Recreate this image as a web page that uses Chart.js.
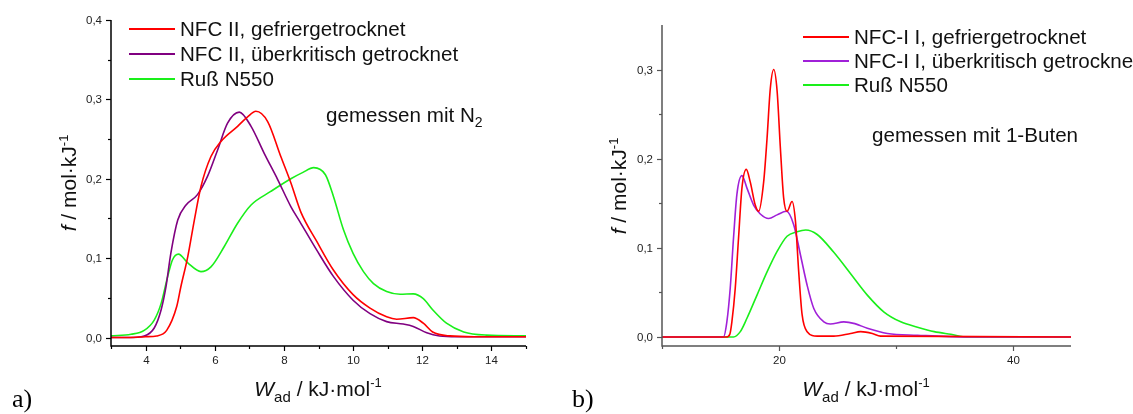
<!DOCTYPE html>
<html>
<head>
<meta charset="utf-8">
<script src="https://cdn.jsdelivr.net/npm/chart.js@4.4.1/dist/chart.umd.min.js"></script>
<style>
html, body { margin: 0; padding: 0; background: #fff; }
#wrap { position: relative; width: 1133px; height: 414px; overflow: hidden; }
#wrap canvas { position: absolute; top: 0; }
</style>
</head>
<body>
<div id="wrap">
 <canvas id="chartA" width="560" height="414" style="left:0"></canvas>
 <canvas id="chartB" width="573" height="414" style="left:560px"></canvas>
</div>
<script>
// a) measured with N2
var aGefrierX = [3, 3.5, 4, 4.32, 4.61, 4.9, 5.02, 5.22, 5.41, 5.6, 5.89, 6.18, 6.66, 6.95, 7.19, 7.53, 7.91, 8.2, 8.49, 8.95, 9.43, 10, 10.49, 10.97, 11.26, 11.74, 12.03, 12.3, 12.8, 13.5, 15];
var aGefrierY = [0.0, 0.0, 0.001, 0.002, 0.009, 0.039, 0.064, 0.102, 0.148, 0.19, 0.228, 0.247, 0.266, 0.278, 0.285, 0.272, 0.228, 0.195, 0.158, 0.121, 0.085, 0.054, 0.037, 0.026, 0.023, 0.025, 0.018, 0.007, 0.002, 0.001, 0.001];
var aUeberX = [3, 3.5, 3.96, 4.25, 4.45, 4.59, 4.73, 4.93, 5.17, 5.5, 5.79, 6.08, 6.37, 6.71, 7.05, 7.43, 7.82, 8.2, 8.46, 8.95, 9.43, 10, 10.49, 10.97, 11.45, 11.74, 12.13, 12.5, 13, 15];
var aUeberY = [0.0, 0.0, 0.002, 0.012, 0.035, 0.064, 0.106, 0.148, 0.167, 0.18, 0.203, 0.236, 0.27, 0.284, 0.266, 0.232, 0.199, 0.165, 0.146, 0.110, 0.077, 0.047, 0.030, 0.020, 0.017, 0.014, 0.006, 0.002, 0.001, 0.001];
var aRussX = [3, 3.58, 3.96, 4.25, 4.45, 4.64, 4.78, 4.95, 5.22, 5.6, 5.89, 6.28, 6.66, 7.05, 7.62, 8.2, 8.55, 8.86, 9.2, 9.43, 9.72, 10, 10.3, 10.59, 10.97, 11.36, 11.74, 12.03, 12.3, 12.7, 13.2, 13.85, 15];
var aRussY = [0.002, 0.004, 0.009, 0.022, 0.043, 0.077, 0.098, 0.105, 0.094, 0.083, 0.089, 0.115, 0.144, 0.167, 0.184, 0.2, 0.208, 0.214, 0.205, 0.178, 0.136, 0.106, 0.083, 0.068, 0.058, 0.0545, 0.055, 0.049, 0.035, 0.018, 0.007, 0.003, 0.002];

// b) measured with 1-butene
var bGefrierX = [10, 15.5, 15.8, 15.98, 16.27, 16.55, 16.84, 17.21, 17.55, 17.98, 18.27, 18.7, 18.99, 19.27, 19.56, 19.85, 20.13, 20.41, 20.7, 21.13, 21.42, 21.7, 21.99, 22.42, 23.28, 24.7, 26.14, 27, 28, 28.7, 45];
var bGefrierY = [0, 0, 0.003, 0.017, 0.055, 0.111, 0.167, 0.188, 0.174, 0.148, 0.141, 0.174, 0.223, 0.279, 0.30, 0.276, 0.212, 0.156, 0.141, 0.152, 0.130, 0.073, 0.025, 0.006, 0.001, 0.001, 0.004, 0.006, 0.004, 0.001, 0];
var bUeberX = [10, 15.26, 15.55, 15.84, 16.12, 16.41, 16.84, 17.27, 17.84, 18.41, 19.13, 19.85, 20.64, 21.27, 21.85, 22.42, 22.99, 23.85, 24.4, 25.56, 26.5, 27.57, 29.29, 31.86, 36.15, 45];
var bUeberY = [0, 0, 0.017, 0.055, 0.111, 0.16, 0.181, 0.167, 0.148, 0.138, 0.133, 0.137, 0.141, 0.126, 0.092, 0.058, 0.032, 0.017, 0.0145, 0.017, 0.015, 0.0098, 0.004, 0.002, 0, 0];
var bRussX = [10, 16.12, 16.7, 17.27, 18.13, 18.99, 19.85, 20.7, 21.56, 22.3, 23.28, 24.7, 26.14, 27.57, 29, 30.43, 31.86, 33.29, 34.72, 36.15, 45];
var bRussY = [0, 0, 0.006, 0.021, 0.047, 0.073, 0.096, 0.113, 0.118, 0.12, 0.115, 0.095, 0.071, 0.047, 0.028, 0.017, 0.011, 0.006, 0.003, 0, 0];

var aLabels = ['NFC II, gefriergetrocknet', 'NFC II, überkritisch getrocknet', 'Ruß N550'];
var bLabels = ['NFC-I I, gefriergetrocknet', 'NFC-I I, überkritisch getrocknet', 'Ruß N550'];

var aYMajor = [0, 0.1, 0.2, 0.3, 0.4];
var aYMinor = [0.05, 0.15, 0.25, 0.35];
var aXMajor = [4, 6, 8, 10, 12, 14];
var aXMinor = [3, 5, 7, 9, 11, 13, 15];
var bYMajor = [0, 0.1, 0.2, 0.3];
var bYMinor = [0.05, 0.15, 0.25];
var bXMajor = [20, 40];
var bXMinor = [10, 30];

var SANS = '"Liberation Sans", Arial, sans-serif';

function pts(xs, ys) {
 return xs.map(function (x, i) { return { x: x, y: ys[i] }; });
}

function ds(label, xs, ys, color) {
 return {
 label: label,
 data: pts(xs, ys),
 borderColor: color,
 borderWidth: 1.6,
 pointRadius: 0,
 fill: false,
 cubicInterpolationMode: 'monotone'
 };
}

function fontOf(p) {
 return (p.italic ? 'italic ' : '') + p.size + 'px ' + SANS;
}

function richWidth(ctx, parts) {
 var w = 0;
 parts.forEach(function (p) { ctx.font = fontOf(p); w += ctx.measureText(p.t).width; });
 return w;
}

function drawRich(ctx, parts, x, y) {
 parts.forEach(function (p) {
 ctx.font = fontOf(p);
 ctx.fillText(p.t, x, y + (p.dy || 0));
 x += ctx.measureText(p.t).width;
 });
}

var yTitle = [{ t: 'f', size: 21, italic: true }, { t: ' / mol·kJ', size: 21 }, { t: '-1', size: 13, dy: -8 }];
var xTitle = [{ t: 'W', size: 21, italic: true }, { t: 'ad', size: 15, dy: 6 }, { t: ' / kJ·mol', size: 21 }, { t: '-1', size: 13, dy: -9 }];

// axes, legend and labels drawn on top, positioned via the chart's own scales
function decor(o) {
 return {
 id: 'decor',
 afterDraw: function (chart) {
 var ctx = chart.ctx, a = chart.chartArea;
 var xs = chart.scales.x, ys = chart.scales.y;
 ctx.save();
 ctx.strokeStyle = o.axisColor;
 ctx.lineWidth = 1.5;
 ctx.beginPath();
 ctx.moveTo(a.left, a.top);
 ctx.lineTo(a.left, a.bottom);
 ctx.lineTo(a.right, a.bottom);
 ctx.stroke();

 ctx.lineWidth = 1.2;
 ctx.fillStyle = '#222';
 ctx.font = '11.5px ' + SANS;
 ctx.textAlign = 'right';
 ctx.textBaseline = 'middle';
 o.yMajor.forEach(function (v) {
 var py = Math.round(ys.getPixelForValue(v)) + 0.5;
 ctx.beginPath(); ctx.moveTo(a.left - 5, py); ctx.lineTo(a.left, py); ctx.stroke();
 ctx.fillText(v.toFixed(1).replace('.', ','), a.left - 9, py);
 });
 o.yMinor.forEach(function (v) {
 var py = Math.round(ys.getPixelForValue(v)) + 0.5;
 ctx.beginPath(); ctx.moveTo(a.left - 3, py); ctx.lineTo(a.left, py); ctx.stroke();
 });
 ctx.textAlign = 'center';
 o.xMajor.forEach(function (v) {
 var px = Math.round(xs.getPixelForValue(v)) + 0.5;
 ctx.beginPath(); ctx.moveTo(px, a.bottom); ctx.lineTo(px, a.bottom + 5); ctx.stroke();
 ctx.fillText(String(v), px, a.bottom + 15);
 });
 o.xMinor.forEach(function (v) {
 var px = Math.round(xs.getPixelForValue(v)) + 0.5;
 ctx.beginPath(); ctx.moveTo(px, a.bottom); ctx.lineTo(px, a.bottom + 3); ctx.stroke();
 });

 // legend
 ctx.textAlign = 'left';
 ctx.textBaseline = 'middle';
 ctx.font = '20.6px ' + SANS;
 chart.data.datasets.forEach(function (d, i) {
 var ly = o.legendY[i];
 ctx.strokeStyle = d.borderColor;
 ctx.lineWidth = 2;
 ctx.beginPath(); ctx.moveTo(o.legendX, ly); ctx.lineTo(o.legendX + 46, ly); ctx.stroke();
 ctx.fillStyle = '#111';
 ctx.fillText(d.label, o.legendX + 51, ly + 1);
 });

 // annotation
 ctx.textBaseline = 'alphabetic';
 drawRich(ctx, o.note, o.noteX, o.noteY);

 // axis titles
 var w = richWidth(ctx, xTitle);
 drawRich(ctx, xTitle, o.xTitleCX - w / 2, 396);
 w = richWidth(ctx, yTitle);
 ctx.save();
 ctx.translate(o.yTitleCX, o.yTitleCY);
 ctx.rotate(-Math.PI / 2);
 drawRich(ctx, yTitle, -w / 2, 8);
 ctx.restore();

 // panel letter
 ctx.font = '26px "Liberation Serif", "Times New Roman", serif';
 ctx.fillStyle = '#000';
 ctx.fillText(o.letter, 12, 407);
 ctx.restore();
 }
 };
}

function makeChart(id, datasets, xmin, xmax, ymin, ymax, pad, o) {
 return new Chart(document.getElementById(id), {
 type: 'line',
 data: { datasets: datasets },
 options: {
 responsive: false,
 animation: false,
 layout: { padding: pad },
 plugins: { legend: { display: false }, tooltip: { enabled: false } },
 scales: {
 x: { type: 'linear', min: xmin, max: xmax, display: false },
 y: { type: 'linear', min: ymin, max: ymax, display: false }
 }
 },
 plugins: [decor(o)]
 });
}

makeChart('chartA', [
 ds(aLabels[0], aGefrierX, aGefrierY, '#ff0000'),
 ds(aLabels[1], aUeberX, aUeberY, '#800080'),
 ds(aLabels[2], aRussX, aRussY, '#1aef1a')
], 3, 15, -0.0107, 0.4, { left: 111, top: 20, right: 34, bottom: 68 }, {
 axisColor: '#000',
 yMajor: aYMajor, yMinor: aYMinor, xMajor: aXMajor, xMinor: aXMinor,
 legendX: 129, legendY: [29, 54, 79],
 note: [{ t: 'gemessen mit N', size: 20.6 }, { t: '2', size: 14, dy: 5 }],
 noteX: 326, noteY: 122,
 xTitleCX: 318, yTitleCX: 68, yTitleCY: 183,
 letter: 'a)'
});

makeChart('chartB', [
 ds(bLabels[0], bGefrierX, bGefrierY, '#ff0000'),
 ds(bLabels[1], bUeberX, bUeberY, '#a020d8'),
 ds(bLabels[2], bRussX, bRussY, '#1aef1a')
], 10, 45, -0.0101, 0.35, { left: 102, top: 25, right: 62, bottom: 68 }, {
 axisColor: '#555',
 yMajor: bYMajor, yMinor: bYMinor, xMajor: bXMajor, xMinor: bXMinor,
 legendX: 243, legendY: [37, 61, 85],
 note: [{ t: 'gemessen mit 1-Buten', size: 20.6 }],
 noteX: 312, noteY: 142,
 xTitleCX: 306, yTitleCX: 58, yTitleCY: 186,
 letter: 'b)'
});
</script>
</body>
</html>
